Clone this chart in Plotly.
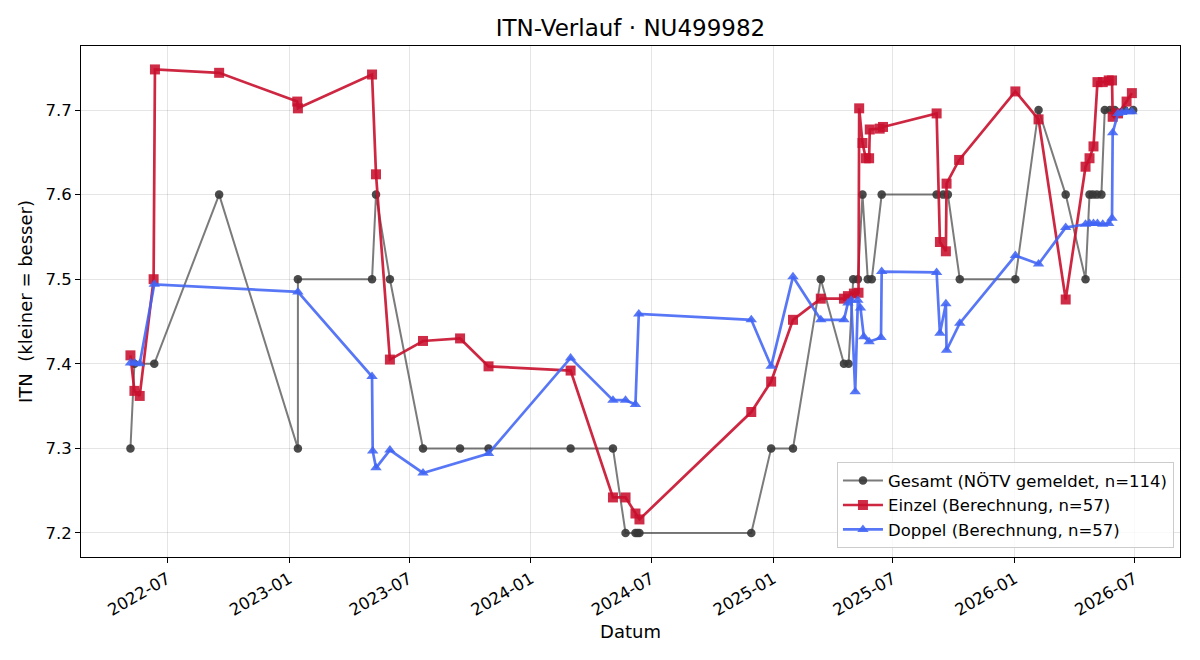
import plotly.graph_objects as go

# ---- data ----
gesamt_dates = [
    "2022-05-06", "2022-05-12", "2022-06-11", "2022-09-17", "2023-01-14", "2023-01-14",
    "2023-05-06", "2023-05-12", "2023-06-02", "2023-07-22", "2023-09-16", "2023-10-29",
    "2024-03-01", "2024-05-04", "2024-05-23", "2024-06-07", "2024-06-10", "2024-06-13",
    "2024-11-29", "2024-12-29", "2025-01-31", "2025-03-14", "2025-04-18", "2025-04-25",
    "2025-05-02", "2025-05-09", "2025-05-16", "2025-05-24", "2025-05-30", "2025-06-14",
    "2025-09-05", "2025-09-15", "2025-09-22", "2025-10-10", "2026-01-02", "2026-02-06",
    "2026-03-19", "2026-04-18", "2026-04-24", "2026-04-29", "2026-05-05", "2026-05-12",
    "2026-05-17", "2026-05-25", "2026-06-01", "2026-06-16", "2026-06-29",
]
gesamt_itn = [
    7.3, 7.4, 7.4, 7.6, 7.3, 7.5,
    7.5, 7.6, 7.5, 7.3, 7.3, 7.3,
    7.3, 7.3, 7.2, 7.2, 7.2, 7.2,
    7.2, 7.3, 7.3, 7.5, 7.4, 7.4,
    7.5, 7.5, 7.6, 7.5, 7.5, 7.6,
    7.6, 7.6, 7.6, 7.5, 7.5, 7.7,
    7.6, 7.5, 7.6, 7.6, 7.6, 7.6,
    7.7, 7.7, 7.7, 7.7, 7.7,
]

einzel_dates = [
    "2022-05-06", "2022-05-12", "2022-05-20", "2022-06-10", "2022-06-12", "2022-09-17",
    "2023-01-13", "2023-01-14", "2023-05-06", "2023-05-12", "2023-06-02", "2023-07-22",
    "2023-09-16", "2023-10-29", "2024-03-01", "2024-05-04", "2024-05-23", "2024-06-07",
    "2024-06-13", "2024-11-29", "2024-12-29", "2025-01-31", "2025-03-14", "2025-04-18",
    "2025-04-24", "2025-05-03", "2025-05-10", "2025-05-11", "2025-05-16", "2025-05-21",
    "2025-05-26", "2025-05-27", "2025-06-11", "2025-06-16", "2025-09-05", "2025-09-10",
    "2025-09-19", "2025-09-20", "2025-10-09", "2026-01-02", "2026-02-06", "2026-03-19",
    "2026-04-18", "2026-04-24", "2026-04-30", "2026-05-06", "2026-05-14", "2026-05-23",
    "2026-05-28", "2026-05-29", "2026-06-06", "2026-06-19", "2026-06-27",
]
einzel_itn = [
    7.410, 7.368, 7.362, 7.500, 7.748, 7.744,
    7.710, 7.702, 7.742, 7.624, 7.405, 7.427,
    7.430, 7.397, 7.392, 7.242, 7.242, 7.223,
    7.216, 7.343, 7.379, 7.452, 7.477, 7.477,
    7.480, 7.483, 7.484, 7.702, 7.661, 7.643,
    7.643, 7.677, 7.678, 7.680, 7.696, 7.544,
    7.533, 7.613, 7.641, 7.722, 7.689, 7.476,
    7.633, 7.643, 7.657, 7.733, 7.733, 7.735,
    7.735, 7.692, 7.696, 7.710, 7.720,
]

doppel_dates = [
    "2022-05-06", "2022-05-12", "2022-05-20", "2022-06-11", "2023-01-14", "2023-05-06",
    "2023-05-07", "2023-05-12", "2023-06-02", "2023-07-22", "2023-10-29", "2024-03-01",
    "2024-05-04", "2024-05-23", "2024-06-07", "2024-06-12", "2024-11-29", "2024-12-29",
    "2025-01-31", "2025-03-14", "2025-04-18", "2025-04-24", "2025-04-29", "2025-05-05",
    "2025-05-09", "2025-05-13", "2025-05-18", "2025-05-26", "2025-06-13", "2025-06-14",
    "2025-09-05", "2025-09-10", "2025-09-19", "2025-09-20", "2025-10-10", "2026-01-02",
    "2026-02-06", "2026-03-19", "2026-04-18", "2026-04-24", "2026-04-30", "2026-05-06",
    "2026-05-14", "2026-05-23", "2026-05-28", "2026-05-29", "2026-06-06", "2026-06-12",
    "2026-06-19", "2026-06-27",
]
doppel_itn = [
    7.401, 7.401, 7.400, 7.494, 7.485, 7.385,
    7.297, 7.277, 7.298, 7.271, 7.294, 7.407,
    7.357, 7.357, 7.352, 7.459, 7.452, 7.397,
    7.503, 7.452, 7.452, 7.472, 7.475, 7.367,
    7.475, 7.466, 7.432, 7.426, 7.431, 7.509,
    7.508, 7.436, 7.471, 7.416, 7.448, 7.528,
    7.518, 7.561, 7.565, 7.566, 7.566, 7.566,
    7.565, 7.566, 7.572, 7.673, 7.696, 7.697,
    7.698, 7.698,
]

x_ticks = ["2022-07-01", "2023-01-01", "2023-07-01", "2024-01-01", "2024-07-01",
           "2025-01-01", "2025-07-01", "2026-01-01", "2026-07-01"]
x_tick_labels = ["2022-07", "2023-01", "2023-07", "2024-01", "2024-07",
                 "2025-01", "2025-07", "2026-01", "2026-07"]
y_ticks = [7.2, 7.3, 7.4, 7.5, 7.6, 7.7]
y_tick_labels = ["7.2", "7.3", "7.4", "7.5", "7.6", "7.7"]

FONT = "DejaVu Sans"
TICK = 16.5
LABEL = 18

fig = go.Figure()
fig.add_trace(go.Scatter(
    x=gesamt_dates, y=gesamt_itn, mode="lines+markers",
    name="Gesamt (NÖTV gemeldet, n=114)",
    line=dict(color="rgba(60,60,60,0.68)", width=2),
    marker=dict(symbol="circle", size=8.5, color="rgba(55,55,55,0.9)"),
))
fig.add_trace(go.Scatter(
    x=einzel_dates, y=einzel_itn, mode="lines+markers",
    name="Einzel (Berechnung, n=57)",
    line=dict(color="rgba(200,16,46,0.9)", width=2.7),
    marker=dict(symbol="square", size=10, color="rgba(200,16,46,0.88)"),
))
fig.add_trace(go.Scatter(
    x=doppel_dates, y=doppel_itn, mode="lines+markers",
    name="Doppel (Berechnung, n=57)",
    line=dict(color="rgba(65,100,245,0.88)", width=2.7),
    marker=dict(symbol="triangle-up", size=10, color="rgba(65,100,245,0.88)"),
))

fig.update_layout(
    width=1200, height=660,
    margin=dict(l=81, r=20, t=46, b=103),
    paper_bgcolor="white", plot_bgcolor="white",
    font=dict(family=FONT, size=TICK, color="black"),
    title=dict(text="ITN-Verlauf · NU499982", xref="paper", x=0.5, xanchor="center",
               yref="container", y=0.957, yanchor="middle", font=dict(size=23, family=FONT)),
    showlegend=True,
    legend=dict(x=0.9945, xanchor="right", y=0.017, yanchor="bottom",
                bgcolor="rgba(255,255,255,0.8)", bordercolor="#cccccc", borderwidth=1,
                font=dict(size=16.5, family=FONT), itemwidth=40, tracegroupgap=0),
)
fig.update_xaxes(
    type="date",
    range=["2022-02-20 07:00", "2026-09-07 17:00"],
    tickvals=x_ticks, ticktext=x_tick_labels, tickangle=-30,
    ticks="outside", ticklen=5, tickcolor="black", tickwidth=1,
    showline=True, linecolor="black", linewidth=1, mirror=True,
    showgrid=True, gridcolor="rgba(0,0,0,0.1)", gridwidth=1, zeroline=False,
    tickfont=dict(size=TICK, family=FONT),
    title=dict(text="Datum", font=dict(size=LABEL, family=FONT), standoff=6),
)
fig.update_yaxes(
    range=[7.1716, 7.7757],
    tickvals=y_ticks, ticktext=y_tick_labels,
    ticks="outside", ticklen=5, tickcolor="black", tickwidth=1,
    showline=True, linecolor="black", linewidth=1, mirror=True,
    showgrid=True, gridcolor="rgba(0,0,0,0.1)", gridwidth=1, zeroline=False,
    tickfont=dict(size=TICK, family=FONT),
    title=dict(text="ITN\u00a0 (kleiner = besser)", font=dict(size=LABEL, family=FONT), standoff=8),
)

fig.write_html("out.html")
